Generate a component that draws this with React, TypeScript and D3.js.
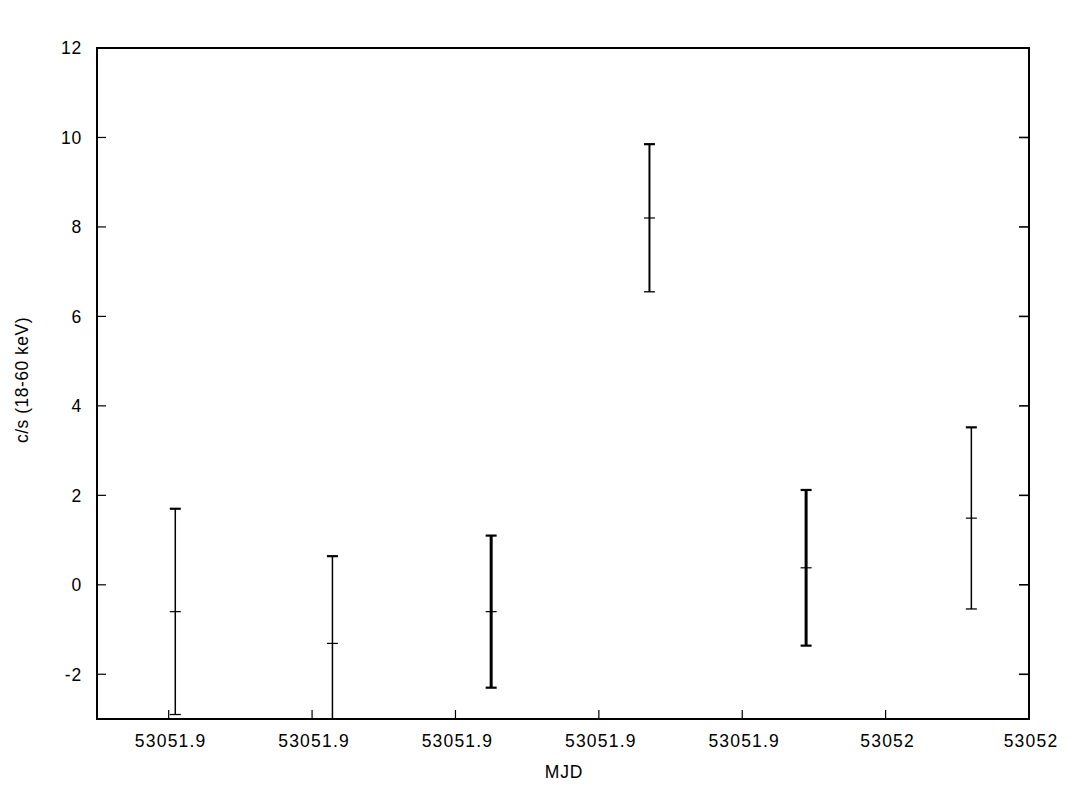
import React from "react";
import * as d3 from "d3";

const mjd = [53051.86092, 53051.88284, 53051.90498, 53051.92706, 53051.94891, 53051.97196];
const rate = [-0.6, -1.31, -0.6, 8.2, 0.38, 1.49];
const rateErr = [2.3, 1.95, 1.7, 1.65, 1.74, 2.03];
const barWidths = [1.5, 1.5, 3, 2, 3, 1.5];

const xTicks = [53051.86, 53051.88, 53051.9, 53051.92, 53051.94, 53051.96, 53051.98];
const yTicks = [-2, 0, 2, 4, 6, 8, 10, 12];

const W = 1089;
const H = 811;
const L = 97, R = 1029, T = 48, B = 719;

export default function App() {
  const x = d3.scaleLinear().domain([53051.85, 53051.98]).range([L, R]);
  const y = d3.scaleLinear().domain([-3, 12]).range([B, T]);
  const fmt0 = d3.format(".6~g");
  const fmt = (v: number) => fmt0(v).replace("\u2212", "-");
  const font = "'Liberation Sans', Arial, sans-serif";
  const cap = 5.5;

  return (
    <div style={{ position: "absolute", left: 0, top: 0 }}>
      <svg width={W} height={H} style={{ display: "block", background: "#fff" }}>
        <defs>
          <clipPath id="plotclip">
            <rect x={L} y={T} width={R - L} height={B - T} />
          </clipPath>
        </defs>
        <rect x={0} y={0} width={W} height={H} fill="#fff" />
        {yTicks.map((v) => (
          <g key={"y" + v}>
            <line x1={L} x2={L + 9} y1={y(v)} y2={y(v)} stroke="#000" strokeWidth={1.2} />
            <line x1={R - 10} x2={R} y1={y(v)} y2={y(v)} stroke="#000" strokeWidth={1.6} />
            <text
              x={L - 15}
              y={y(v)}
              dy="0.36em"
              textAnchor="end"
              fontFamily={font}
              fontSize={17.5}
              letterSpacing={0.8}
              fill="#000"
            >
              {fmt(v)}
            </text>
          </g>
        ))}
        {xTicks.map((v) => (
          <g key={"x" + v}>
            <line x1={x(v)} x2={x(v)} y1={B} y2={B - 9} stroke="#000" strokeWidth={1.2} />
            <text
              x={x(v) + 2}
              y={B + 28}
              textAnchor="middle"
              fontFamily={font}
              fontSize={17.5}
              letterSpacing={1.2}
              fill="#000"
            >
              {fmt(v)}
            </text>
          </g>
        ))}
        <g clipPath="url(#plotclip)">
          {mjd.map((m, i) => {
            const cx = x(m);
            const y0 = y(rate[i] - rateErr[i]);
            const y1 = y(rate[i] + rateErr[i]);
            const yc = y(rate[i]);
            const sw = barWidths[i];
            return (
              <g key={"p" + i} stroke="#000">
                <line x1={cx} x2={cx} y1={y0} y2={y1} strokeWidth={sw} />
                <line x1={cx - cap} x2={cx + cap} y1={y1} y2={y1} strokeWidth={2.2} />
                <line x1={cx - cap} x2={cx + cap} y1={y0} y2={y0} strokeWidth={sw > 2 ? 2.2 : 1.3} />
                <line x1={cx - cap} x2={cx + cap} y1={yc} y2={yc} strokeWidth={1.2} />
              </g>
            );
          })}
        </g>
        <rect x={L} y={T} width={R - L} height={B - T} fill="none" stroke="#000" strokeWidth={2} />
        <text
          x={564}
          y={778}
          textAnchor="middle"
          fontFamily={font}
          fontSize={17.5}
          letterSpacing={0.8}
          fill="#000"
        >
          MJD
        </text>
        <text
          transform={`translate(28, ${380}) rotate(-90)`}
          textAnchor="middle"
          fontFamily={font}
          fontSize={17.5}
          letterSpacing={0.5}
          fill="#000"
        >
          c/s (18-60 keV)
        </text>
      </svg>
    </div>
  );
}
